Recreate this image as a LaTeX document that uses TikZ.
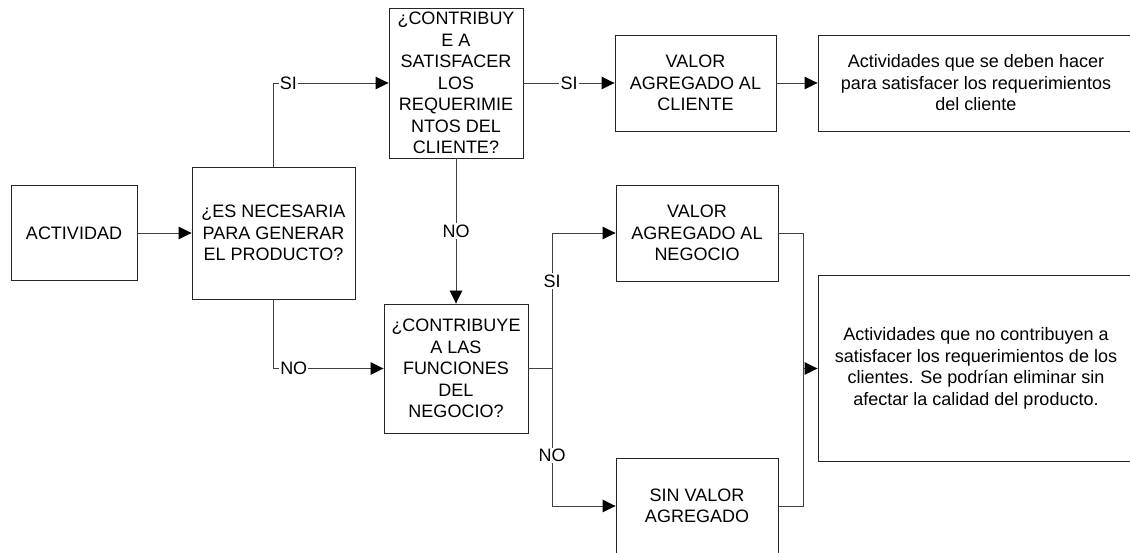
\documentclass[tikz,border=0pt]{standalone}
\usepackage{fontspec}
\setmainfont{Liberation Sans}
\usetikzlibrary{arrows.meta}
\begin{document}
\begin{tikzpicture}[x=1pt,y=-1pt,
  box/.style={draw=black!85, line width=0.9pt, fill=white, align=center,
    inner sep=0pt, font=\fontsize{18}{21.5}\selectfont},
  conn/.style={draw=black!75, line width=0.9pt},
  arr/.style={conn, -{Triangle[length=13pt,width=12.5pt,color=black]}},
  lbl/.style={fill=white, inner sep=1.2pt, font=\fontsize{18}{21.5}\selectfont}]
\clip (0,0) rectangle (1130,553);
\fill[white] (0,0) rectangle (1130,553);

% process and decision boxes
\node[box, minimum width=126pt, minimum height=95pt] (act) at (74,233) {ACTIVIDAD};
\node[box, minimum width=163pt, minimum height=132pt] (nec) at (273.5,233)
  {¿ES NECESARIA\\PARA GENERAR\\EL PRODUCTO?};
\node[box, minimum width=134pt, minimum height=150pt] (cli) at (456,83)
  {¿CONTRIBUY\\E A\\SATISFACER\\LOS\\REQUERIMIE\\NTOS DEL\\CLIENTE?};
\node[box, minimum width=161pt, minimum height=96pt] (vac) at (695.5,83)
  {VALOR\\AGREGADO AL\\CLIENTE};
\node[box, minimum width=316pt, minimum height=96pt] (acd) at (976,83)
  {Actividades que se deben hacer\\para satisfacer los requerimientos\\del cliente};
\node[box, minimum width=144pt, minimum height=129pt] (fun) at (456,368.5)
  {¿CONTRIBUYE\\A LAS\\FUNCIONES\\DEL\\NEGOCIO?};
\node[box, minimum width=162pt, minimum height=96pt] (van) at (697,233)
  {VALOR\\AGREGADO AL\\NEGOCIO};
\node[box, minimum width=162pt, minimum height=96pt] (sva) at (697,506)
  {SIN VALOR\\AGREGADO};
\node[box, minimum width=316pt, minimum height=186pt] (big) at (976,368.5)
  {Actividades que no contribuyen a\\satisfacer los requerimientos de los\\clientes. Se podrían eliminar sin\\afectar la calidad del producto.};

% junction points
\coordinate (j1) at (552,368.5);
\coordinate (j2) at (803,368.5);

% connectors
\draw[arr] (act.east) -- (nec.west);
\draw[arr] (nec.north) |- node[lbl, pos=0.565] {SI} (cli.west);
\draw[arr] (nec.south) |- node[lbl, pos=0.592] {NO} (fun.west);
\draw[arr] (cli.east) -- node[lbl] {SI} (vac.west);
\draw[arr] (vac.east) -- (acd.west);
\draw[arr] (cli.south) -- node[lbl] {NO} (fun.north);
\draw[conn] (fun.east) -- (j1);
\draw[arr] (j1) |- node[lbl, pos=0.323] {SI} (van.west);
\draw[arr] (j1) |- node[lbl, pos=0.315] {NO} (sva.west);
\draw[conn] (van.east) -| (j2);
\draw[conn] (sva.east) -| (j2);
\draw[arr] (j2) -- (big.west);
\end{tikzpicture}
\end{document}
